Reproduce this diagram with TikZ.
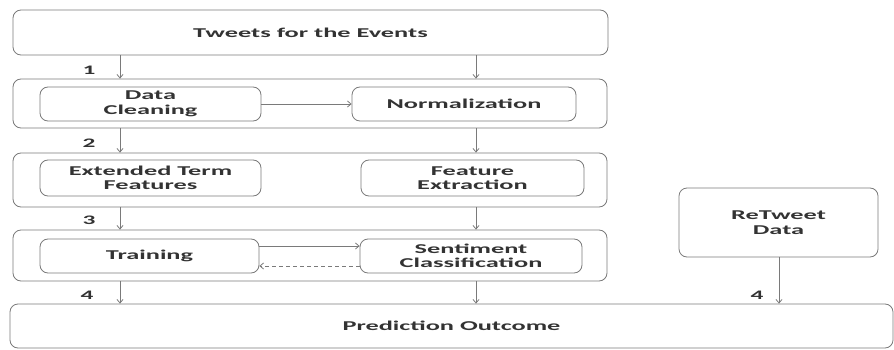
\documentclass[tikz,border=0pt]{standalone}
\usepackage{fontspec}
\setmainfont[FakeStretch=1.95]{Carlito}
\usetikzlibrary{arrows.meta}
\definecolor{lc}{HTML}{7A7A7A}
\definecolor{tc}{HTML}{333333}
\tikzset{
  box/.style={draw=lc, line width=0.8pt, rounded corners=8pt, fill=white, inner sep=0pt,
    text=tc, font=\fontsize{13.5}{14.5}\selectfont\bfseries, align=center},
  arr/.style={draw=lc, line width=0.8pt, -{Straight Barb[length=3.5pt,width=6pt]}},
  num/.style={text=tc, font=\fontsize{13}{14}\selectfont\bfseries, inner sep=0pt}
}
\begin{document}
\begin{tikzpicture}[x=1pt,y=-1pt]
\useasboundingbox (0,0) rectangle (894,350);
\coordinate (colA) at (120,0);
\coordinate (colB) at (476,0);
\coordinate (colC) at (779,0);
% boxes
\node[box, minimum width=595pt, minimum height=45pt] (top) at (310.5,32.5) {Tweets for the Events};
\node[box, minimum width=594pt, minimum height=49pt] (c2) at (310,103.5) {};
\node[box, minimum width=221pt, minimum height=34pt] (dc) at (150.5,104) {Data\\Cleaning};
\node[box, minimum width=224pt, minimum height=34pt] (nm) at (464,104) {Normalization};
\node[box, minimum width=594pt, minimum height=54pt] (c3) at (310,180) {};
\node[box, minimum width=221pt, minimum height=36pt] (et) at (150.5,178) {Extended Term\\Features};
\node[box, minimum width=223pt, minimum height=36pt] (fe) at (472.5,178) {Feature\\Extraction};
\node[box, minimum width=594pt, minimum height=51pt] (c4) at (310,255.5) {};
\node[box, minimum width=219pt, minimum height=34pt] (tr) at (149.5,256) {Training};
\node[box, minimum width=222pt, minimum height=34pt] (sc) at (471,256) {Sentiment\\Classification};
\node[box, minimum width=199pt, minimum height=69pt] (rt) at (778.5,222.5) {ReTweet\\Data};
\node[box, minimum width=883pt, minimum height=44pt] (po) at (451.5,326) {Prediction Outcome};
% connectors
\draw[arr] (top.south -| colA) -- (c2.north -| colA);
\draw[arr] (top.south -| colB) -- (c2.north -| colB);
\draw[arr] (c2.south -| colA) -- (c3.north -| colA);
\draw[arr] (c2.south -| colB) -- (c3.north -| colB);
\draw[arr] (c3.south -| colA) -- (c4.north -| colA);
\draw[arr] (c3.south -| colB) -- (c4.north -| colB);
\draw[arr] (c4.south -| colA) -- (po.north -| colA);
\draw[arr] (c4.south -| colB) -- (po.north -| colB);
\draw[arr] (rt.south -| colC) -- (po.north -| colC);
\draw[arr] (dc.east) -- (nm.west);
\draw[arr] ([yshift=10pt]tr.east) -- ([yshift=10pt]sc.west);
\draw[arr, dashed, dash pattern=on 4pt off 3pt] ([yshift=-10pt]sc.west) -- ([yshift=-10pt]tr.east);
% labels
\node[num] (n1) at (89,70) {1};
\node[num] (n2) at (89,143) {2};
\node[num] (n3) at (89,220) {3};
\node[num] (n4) at (87,295) {4};
\node[num] (n5) at (757,295) {4};
\end{tikzpicture}
\end{document}
